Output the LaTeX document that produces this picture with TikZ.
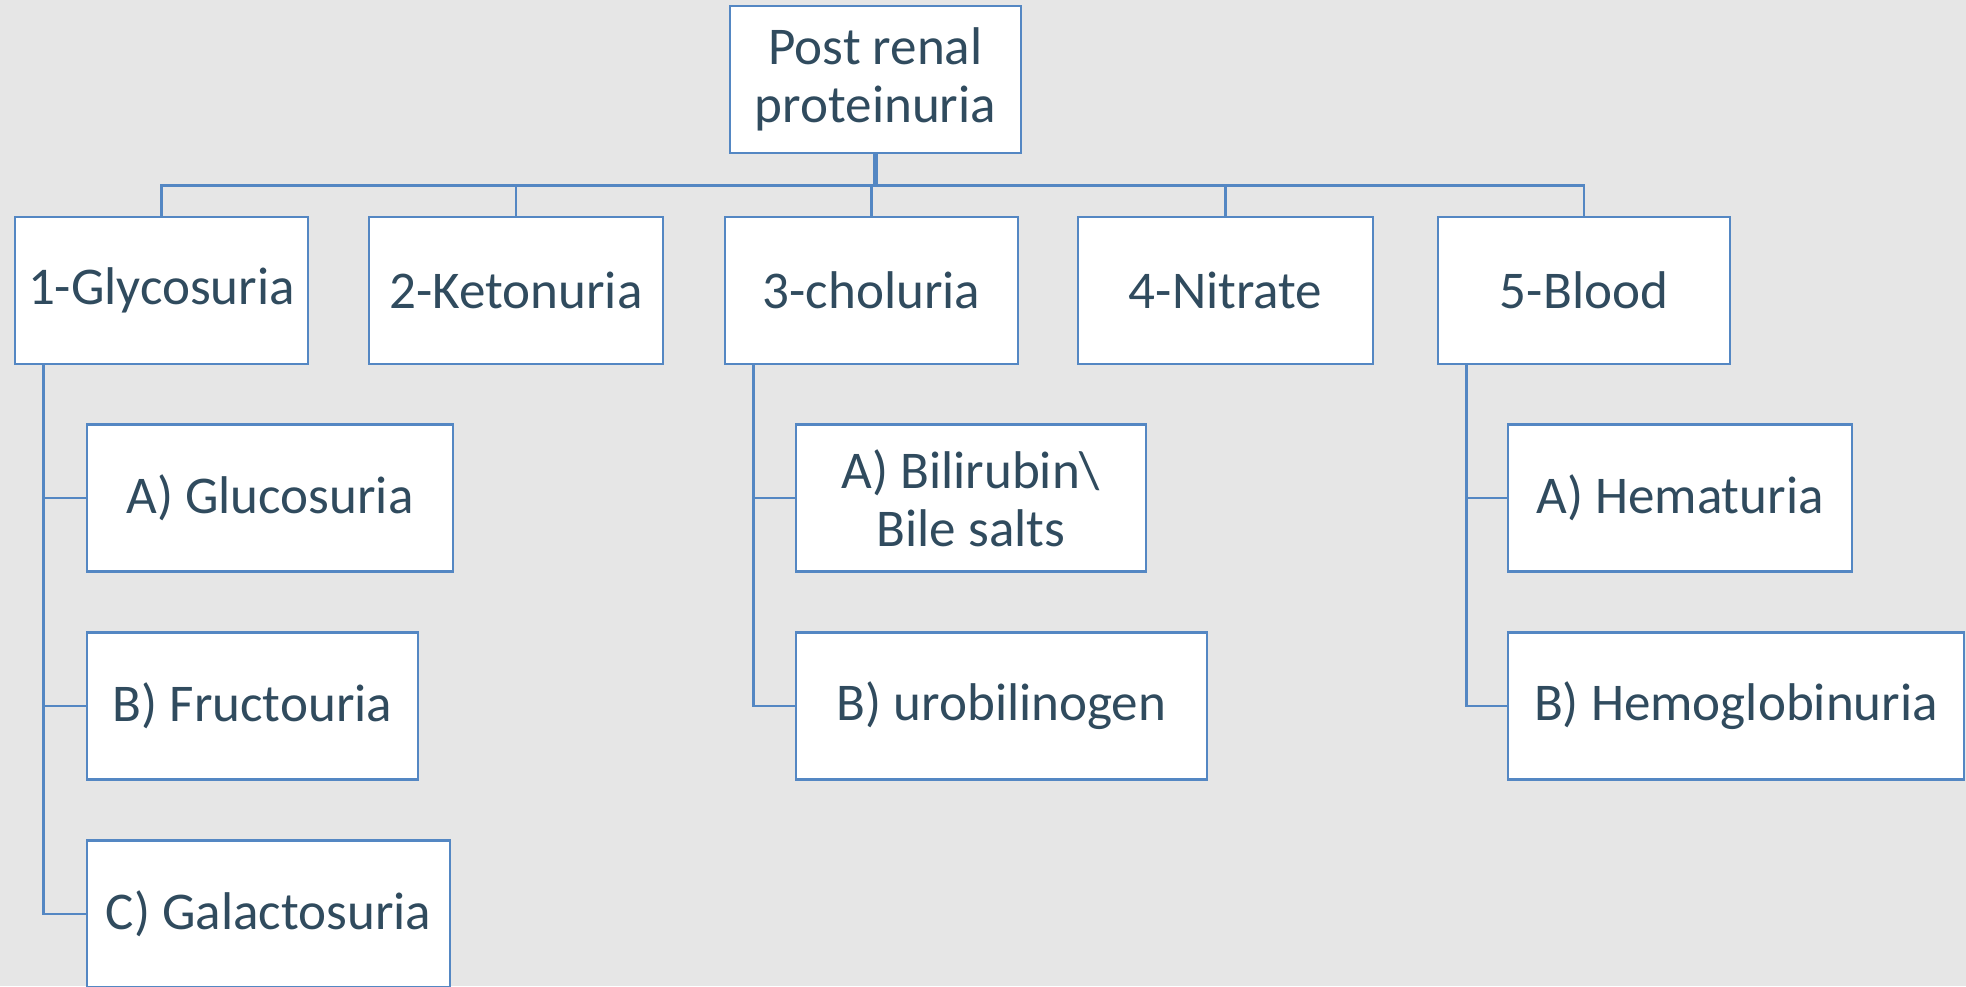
\documentclass[tikz,border=0pt]{standalone}
\usepackage{fontspec}
\setmainfont{Carlito}
\usepackage{tikz}

\definecolor{panelgray}{RGB}{230,230,230}
\definecolor{boxblue}{RGB}{84,135,195}
\definecolor{inkslate}{RGB}{48,75,94}

\begin{document}
\begin{tikzpicture}[
        box/.style={draw=boxblue, line width=0.8pt, fill=white, text=inkslate,
            minimum height=1.47cm, inner sep=0pt, align=center,
            font=\fontsize{15.1}{16.6}\selectfont},
        link/.style={draw=boxblue, line width=0.75pt}
    ]
    \fill[panelgray] (0,0) rectangle (19.66,-9.86);
    \useasboundingbox (0,0) rectangle (19.66,-9.86);

    \node[box, minimum width=2.91cm] (root) at (8.755,-0.795) {Post renal\\proteinuria};

    \node[box, minimum width=2.93cm] (gly) at (1.615,-2.905) {1-Glycosuria};
    \node[box, minimum width=2.94cm] (ket) at (5.16,-2.905) {2-Ketonuria};
    \node[box, minimum width=2.93cm] (cho) at (8.715,-2.905) {3-choluria};
    \node[box, minimum width=2.95cm] (nit) at (12.255,-2.905) {4-Nitrate};
    \node[box, minimum width=2.92cm] (blo) at (15.84,-2.905) {5-Blood};

    \node[box, minimum width=3.66cm] (glu) at (2.70,-4.98) {A) Glucosuria};
    \node[box, minimum width=3.31cm] (fru) at (2.525,-7.06) {B) Fructouria};
    \node[box, minimum width=3.63cm] (gal) at (2.685,-9.14) {C) Galactosuria};

    \node[box, minimum width=3.50cm] (bil) at (9.71,-4.98) {A) Bilirubin\textbackslash\\Bile salts};
    \node[box, minimum width=4.11cm] (uro) at (10.015,-7.06) {B) urobilinogen};

    \node[box, minimum width=3.44cm] (hem) at (16.80,-4.98) {A) Hematuria};
    \node[box, minimum width=4.56cm] (hgb) at (17.36,-7.06) {B) Hemoglobinuria};

    \draw[link, line width=1.3pt] (root.south) -- ++(0,-0.31) coordinate (hub);
    \foreach \n in {gly,ket,cho,nit,blo}
        \draw[link] (hub) -| (\n.north);

    \foreach \p/\c in {gly/glu,gly/fru,gly/gal,cho/bil,cho/uro,blo/hem,blo/hgb}
        \draw[link] ([xshift=3mm]\p.south west) |- (\c.west);
\end{tikzpicture}
\end{document}
